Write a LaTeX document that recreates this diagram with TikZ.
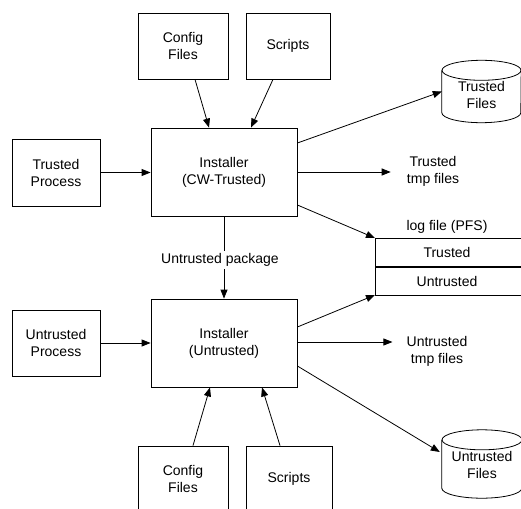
\documentclass[tikz,border=0pt]{standalone}
\usepackage{fontspec}
\setmainfont{Liberation Sans}
\usetikzlibrary{arrows.meta,calc}
\newcommand\drawcyl[2]{%
  \draw[line width=0.8pt] ($(#1.north west)+(0,10)$) -- ($(#1.south west)+(0,-10)$)
    arc[start angle=180,end angle=360,x radius=#2,y radius=10pt] -- ($(#1.north east)+(0,10)$);
  \draw[line width=0.8pt] ($(#1.north)+(0,10)$) ellipse[x radius=#2,y radius=10pt];}
\begin{document}
\begin{tikzpicture}[x=1pt,y=-1pt,
  font=\fontsize{14}{17}\selectfont,
  box/.style={draw,line width=0.8pt,align=center,inner sep=0pt},
  cyl/.style={draw=none,align=center,inner sep=0pt},
  txt/.style={align=center,inner sep=1pt},
  conn/.style={line width=0.8pt,-{Triangle[length=9pt,width=7pt]}},
  plain/.style={line width=0.8pt}]
\useasboundingbox (0,0) rectangle (521,508);
% top sources
\node[box,minimum width=90pt,minimum height=66pt] (cfgT) at (183,46) {Config\\Files};
\node[box,minimum width=84pt,minimum height=66pt] (scrT) at (288,46) {Scripts};
% installers
\node[box,minimum width=146pt,minimum height=88pt] (instT) at (224,172) {Installer\\(CW-Trusted)};
\node[box,minimum width=146pt,minimum height=88pt] (instU) at (224,343) {Installer\\(Untrusted)};
% processes
\node[box,minimum width=88pt,minimum height=67pt] (tproc) at (56,172.5) {Trusted\\Process};
\node[box,minimum width=88pt,minimum height=66pt] (uproc) at (56,343) {Untrusted\\Process};
% bottom sources
\node[box,minimum width=90pt,minimum height=66pt] (cfgB) at (183,479) {Config\\Files};
\node[box,minimum width=86pt,minimum height=66pt] (scrB) at (289,479) {Scripts};
% cylinders
\node[cyl,minimum width=79pt,minimum height=62pt] (tfiles) at (481.5,91.5) {};
\drawcyl{tfiles}{39.5pt}
\node[txt] (tfilesT) at (481.5,95) {Trusted\\Files};
\node[cyl,minimum width=80pt,minimum height=68pt] (ufiles) at (482,464) {};
\drawcyl{ufiles}{40pt}
\node[txt] (ufilesT) at (482,465) {Untrusted\\Files};
% tmp file labels
\node[txt] (ttmp) at (433,171.5) {Trusted\\tmp files};
\node[txt] (utmp) at (437,351.5) {Untrusted\\tmp files};
% log file
\coordinate (logTL) at (375,238);
\coordinate (logML) at (375,267);
\coordinate (logBL) at (375,295);
\coordinate (logTR) at (521,238);
\coordinate (logMR) at (521,267);
\coordinate (logBR) at (521,295);
\draw[plain] (logTR) -- (logTL) -- (logBL) -- (logBR);
\draw[line width=1.3pt] (logML) -- (logMR);
\node[txt] (logt) at (447,227) {log file (PFS)};
\node[txt] (logtr) at (447,252.5) {Trusted};
\node[txt] (logun) at (447,281.5) {Untrusted};
% connectors top
\draw[conn] ($(cfgT.south)+(12,0)$) -- ($(instT.north)+(-15,0)$);
\draw[conn] ($(scrT.south)+(-15,0)$) -- ($(instT.north)+(27,0)$);
\draw[conn] (tproc.east) -- (tproc.east -| instT.west);
\draw[conn] ($(instT.east)+(0,-29)$) -- (tfiles.west);
\draw[conn,shorten >=15pt] (instT.east) -- (instT.east -| ttmp.west);
\draw[conn] ($(instT.east)+(0,33)$) -- (logTL);
% middle
\draw[conn] (instT.south) -- (instU.north);
\node[txt,fill=white,inner sep=2pt] (pkg) at (220,260) {Untrusted package};
% connectors bottom
\coordinate (uout) at ($(instU.east)+(0,-1)$);
\draw[conn] (uproc.east) -- (uproc.east -| instU.west);
\draw[conn] ($(instU.east)+(0,-16)$) -- (logBL);
\draw[conn,shorten >=13pt] (uout) -- (uout -| utmp.west);
\draw[conn] ($(instU.east)+(0,23)$) -- ($(ufiles.west)+(-2,-12)$);
\draw[conn] ($(cfgB.north)+(10,0)$) -- ($(instU.south)+(-14,0)$);
\draw[conn] ($(scrB.north)+(-9,0)$) -- ($(instU.south)+(38,0)$);
\end{tikzpicture}
\end{document}
